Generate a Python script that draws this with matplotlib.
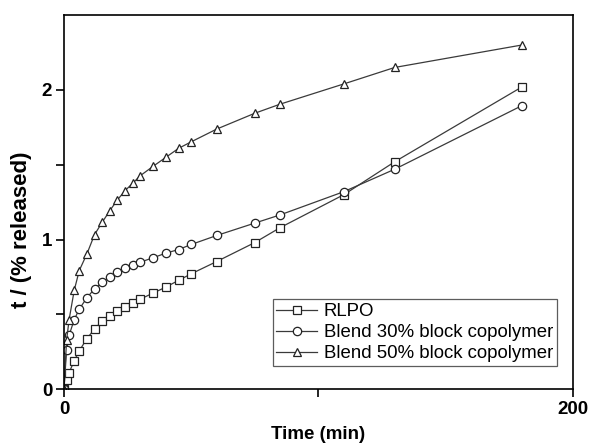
import numpy as np
import matplotlib.pyplot as plt

plt.rcParams["font.family"] = ["Liberation Sans", "DejaVu Sans"]

# release time points (min)
time_min = [0, 1, 2, 4, 6, 9, 12, 15, 18, 21, 24, 27, 30, 35, 40, 45, 50, 60, 75, 85, 110, 130, 180]

# t / (% released) for each formulation
rlpo = [0, 0.06, 0.11, 0.19, 0.256, 0.338, 0.402, 0.456, 0.491, 0.52, 0.549, 0.576, 0.602,
        0.642, 0.682, 0.727, 0.771, 0.853, 0.98, 1.08, 1.30, 1.52, 2.02]
blend30 = [0, 0.26, 0.36, 0.464, 0.535, 0.611, 0.671, 0.716, 0.749, 0.782, 0.809, 0.829, 0.849,
           0.878, 0.909, 0.933, 0.967, 1.027, 1.11, 1.165, 1.32, 1.47, 1.895]
blend50 = [0, 0.327, 0.464, 0.66, 0.793, 0.904, 1.033, 1.115, 1.193, 1.265, 1.327, 1.376, 1.427,
           1.489, 1.549, 1.609, 1.653, 1.738, 1.844, 1.905, 2.04, 2.15, 2.30]

fig = plt.figure(figsize=(5.9, 4.43), dpi=100)
ax = fig.add_axes([0.1085, 0.1215, 0.8625, 0.8445])

line_kw = dict(color="#3a3a3a", lw=0.9, mfc="white", mec="#222222", mew=0.9, ms=6)
ax.plot(time_min, rlpo, marker="s", label="RLPO", **line_kw)
ax.plot(time_min, blend30, marker="o", label="Blend 30% block copolymer", **line_kw)
ax.plot(time_min, blend50, marker="^", label="Blend 50% block copolymer", **line_kw)

ax.set_xlim(0, 200)
ax.set_ylim(0, 2.5)
ax.set_xticks([0, 100, 200])
ax.set_xticklabels(["0", "", "200"])
ax.set_yticks([0, 0.5, 1, 1.5, 2])
ax.set_yticklabels(["0", "", "1", "", "2"])
ax.tick_params(direction="out", length=5.5, width=1.2, labelsize=13.5, pad=3)
for lbl in ax.get_xticklabels() + ax.get_yticklabels():
    lbl.set_fontweight("bold")
for sp in ax.spines.values():
    sp.set_linewidth(1.2)

ax.set_xlabel("Time (min)", fontsize=13.5, fontweight="bold", labelpad=6)
ax.set_ylabel("t / (% released)", fontsize=16, fontweight="bold")
ax.yaxis.set_label_coords(-0.062, 0.425)

leg = ax.legend(loc="lower right", bbox_to_anchor=(0.9686, 0.0615), fontsize=13.4,
                frameon=True, fancybox=False, edgecolor="#333333",
                handlelength=2.2, handletextpad=0.35, borderpad=0.2, labelspacing=0.22,
                borderaxespad=0)
leg.get_frame().set_linewidth(0.9)

fig.savefig("out.png", dpi=100)
